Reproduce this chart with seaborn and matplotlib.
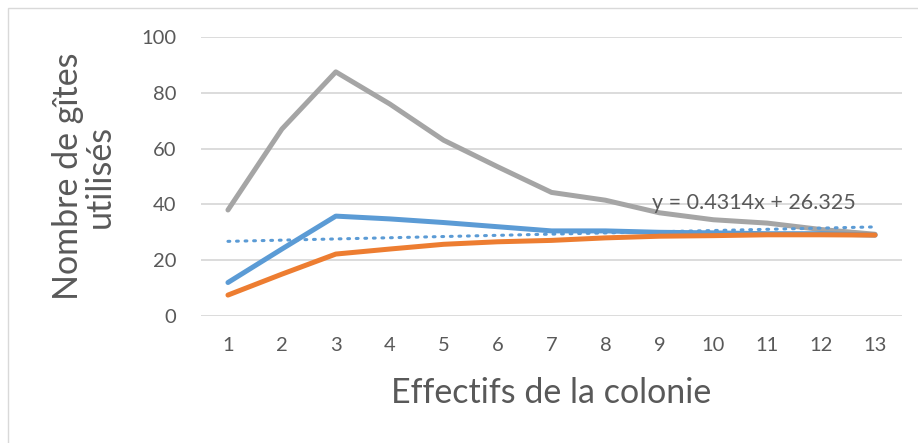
import numpy as np
import pandas as pd
import matplotlib
matplotlib.use("Agg")
import matplotlib.pyplot as plt
import seaborn as sns
from matplotlib.patches import Rectangle

x_vals = list(range(1, 14))
gray_vals = [38, 67, 87.5, 76, 63, 53.5, 44.3, 41.5, 37, 34.5, 33.3, 31, 29.3]
blue_vals = [12, 24, 35.8, 34.8, 33.5, 32, 30.5, 30.5, 30, 29.8, 29.5, 29.5, 29]
orange_vals = [7.5, 15, 22.2, 24, 25.7, 26.6, 27.1, 28, 28.6, 28.8, 29.1, 29.1, 29]
trend_slope = 0.4314
trend_intercept = 26.325
trend_label = "y = 0.4314x + 26.325"

sns.set_theme(style="white")
plt.rcParams['font.family'] = ['Lato', 'DejaVu Sans']

text_col = "#595959"
fig = plt.figure(figsize=(9.18, 4.43), dpi=100)
ax = fig.add_axes([201/918, 1-316/443, (902-201)/918, (316-37)/443])

df = pd.DataFrame({"x": x_vals * 3,
                   "y": gray_vals + blue_vals + orange_vals,
                   "s": ["gray"] * 13 + ["blue"] * 13 + ["orange"] * 13})
palette = {"gray": "#A5A5A5", "blue": "#5B9BD5", "orange": "#ED7D31"}
for s in ["gray", "blue", "orange"]:
    sns.lineplot(data=df[df.s == s], x="x", y="y", color=palette[s], lw=3.6,
                 ax=ax, legend=False, solid_capstyle="round", zorder=3)

xt = np.array(x_vals, dtype=float)
ax.plot(xt, trend_slope * xt + trend_intercept, color="#5B9BD5", lw=2.2,
        linestyle=(0, (0.6, 2.2)), dash_capstyle="round", zorder=4)
ax.text(8.86, 40.5, trend_label, color=text_col, fontsize=15.5, ha="left", va="center")

ax.set_xlim(0.5, 13.5)
ax.set_ylim(0, 100)
ax.set_yticks([0, 20, 40, 60, 80, 100])
ax.set_xticks(x_vals)
ax.yaxis.grid(True, color="#D9D9D9", lw=1.3)
ax.xaxis.grid(False)
for sp in ax.spines.values():
    sp.set_visible(False)
ax.tick_params(axis="both", length=0, labelsize=14.5, labelcolor=text_col)
ax.tick_params(axis="y", pad=18)
ax.tick_params(axis="x", pad=15)
ax.set_xlabel("Effectifs de la colonie", fontsize=24.5, color=text_col, labelpad=17)
ax.set_ylabel("Nombre de gîtes\nutilisés", fontsize=24.5, color=text_col,
              linespacing=1.0)
ax.yaxis.set_label_coords(-0.121, 0.5)

fig.patches.append(Rectangle((8/918, -0.1), 1.2, 1 - 8/443 + 0.1, transform=fig.transFigure,
                             fill=False, edgecolor="#D9D9D9", lw=1.0))
fig.savefig("out.png", dpi=100)
